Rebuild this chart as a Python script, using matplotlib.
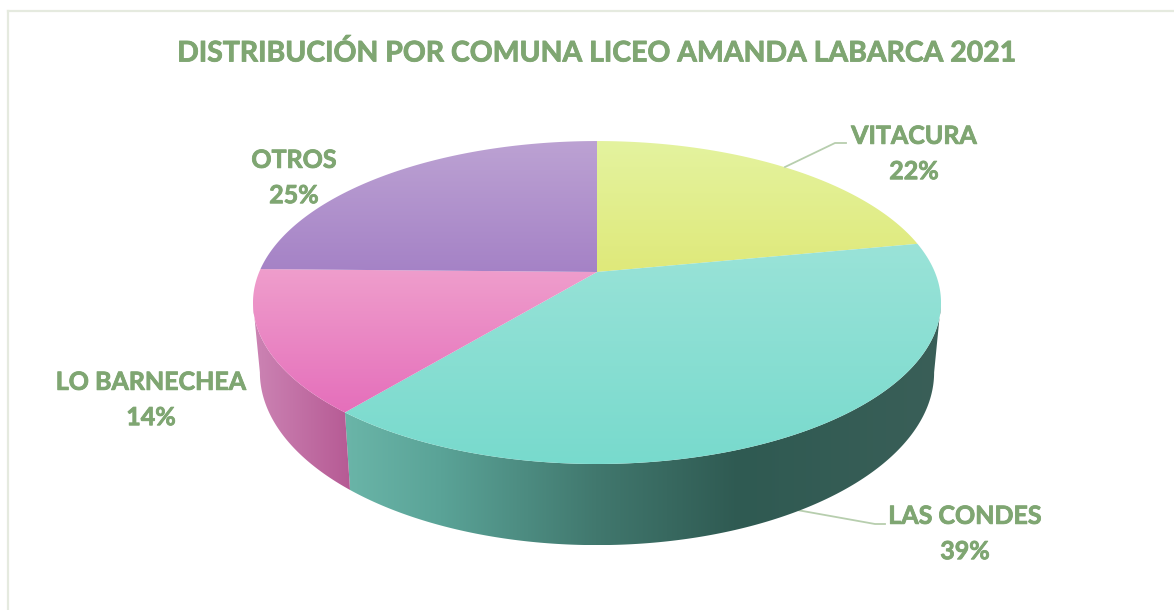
import numpy as np
import matplotlib
matplotlib.use("Agg")
import matplotlib.pyplot as plt
import matplotlib.patheffects as pe
from matplotlib.colors import to_rgb
from matplotlib.patches import Polygon

comunas = ["VITACURA", "LAS CONDES", "LO BARNECHEA", "OTROS"]
porcentajes = [22, 39, 14.3, 24.7]
titulo = "DISTRIBUCIÓN POR COMUNA LICEO AMANDA LABARCA 2021"

top_grad = [("#e4f39f", "#dfe97a"), ("#9ae3d8", "#78dacd"),
            ("#ef9ecc", "#e56fbb"), ("#bca2d3", "#a582c6")]
wall_stops = {1: [(0.0, "#6ab5a8"), (0.16, "#5aa397"), (0.42, "#41786e"),
                  (0.66, "#2f5a52"), (1.0, "#3a5f58")],
              2: [(0.0, "#cc84b4"), (1.0, "#b65a94")]}
TXT = "#7fa672"
LEAD = "#b7ceae"

# projection of the unit disc
CX, CY, A, B, K = 597.0, 272.0, 337.8, 155.7, 0.189
SX_LOW, SY_LOW, CY_LOW = 0.98, 1.07, 339.7
WIDEST = np.arccos(-K)


def proj(theta, r=1.0, low=False):
    x, y = r * np.sin(theta), r * np.cos(theta)
    w = 1 + K * y
    if low:
        return CX + SX_LOW * A * x / w, CY_LOW - SY_LOW * B * y / w
    return CX + A * x / w, CY - B * y / w


def gradient(ax, poly, stops, vertical):
    xs, ys = poly[:, 0], poly[:, 1]
    n = 256
    t = np.linspace(0, 1, n)
    pos = [s[0] for s in stops]
    cols = np.array([to_rgb(s[1]) for s in stops])
    rgb = np.stack([np.interp(t, pos, cols[:, i]) for i in range(3)], axis=-1)
    img = rgb[:, None, :] if vertical else rgb[None, :, :]
    im = ax.imshow(img, extent=(xs.min(), xs.max(), ys.max(), ys.min()),
                   aspect="auto", interpolation="bilinear", zorder=2)
    patch = Polygon(poly, closed=True, transform=ax.transData)
    im.set_clip_path(patch)


fig = plt.figure(figsize=(11.74, 6.10), dpi=100, facecolor="white")
ax = fig.add_axes([0, 0, 1, 1])
ax.axis("off")

edges = np.deg2rad(np.concatenate([[0], np.cumsum(porcentajes)]) * 3.6)

for i, stops in wall_stops.items():
    # the wall starts/ends on the silhouette of the disc
    t0 = max(edges[i], WIDEST)
    t1 = min(edges[i + 1], 2 * np.pi - WIDEST)
    th = np.linspace(t0, t1, 200)
    up = np.column_stack(proj(th))
    lo = np.column_stack(proj(th, low=True))[::-1]
    gradient(ax, np.vstack([up, lo]), stops, vertical=False)

for i, (c0, c1) in enumerate(top_grad):
    th = np.linspace(edges[i], edges[i + 1], 300)
    poly = np.vstack([[[CX, CY]], np.column_stack(proj(th))])
    gradient(ax, poly, [(0, c0), (1, c1)], vertical=True)

ax.plot([8, 8], [11, 610], color="#e5eadf", lw=1.6, zorder=1)
ax.plot([8, 1174], [11, 11], color="#e5eadf", lw=1.6, zorder=1)

ax.plot([785, 835, 846], [167, 143, 143], color=LEAD, lw=1.3, zorder=3)
ax.plot([797, 875, 885], [510, 524, 524], color=LEAD, lw=1.3, zorder=1)

font = dict(family="Lato", weight="bold", color=TXT, ha="center", va="center",
            path_effects=[pe.withStroke(linewidth=0.6, foreground=TXT)])
ax.text(596, 53, titulo, fontsize=20.45, **font)
pos = [(914, 154), (965, 534), (151, 400), (294, 178)]
for (px, py), nom, val in zip(pos, comunas, porcentajes):
    ax.text(px, py, f"{nom}\n{val:.0f}%", fontsize=18, linespacing=1.65, **font)

ax.set_xlim(0, 1174)
ax.set_ylim(610, 0)
fig.savefig("out.png", dpi=100)
